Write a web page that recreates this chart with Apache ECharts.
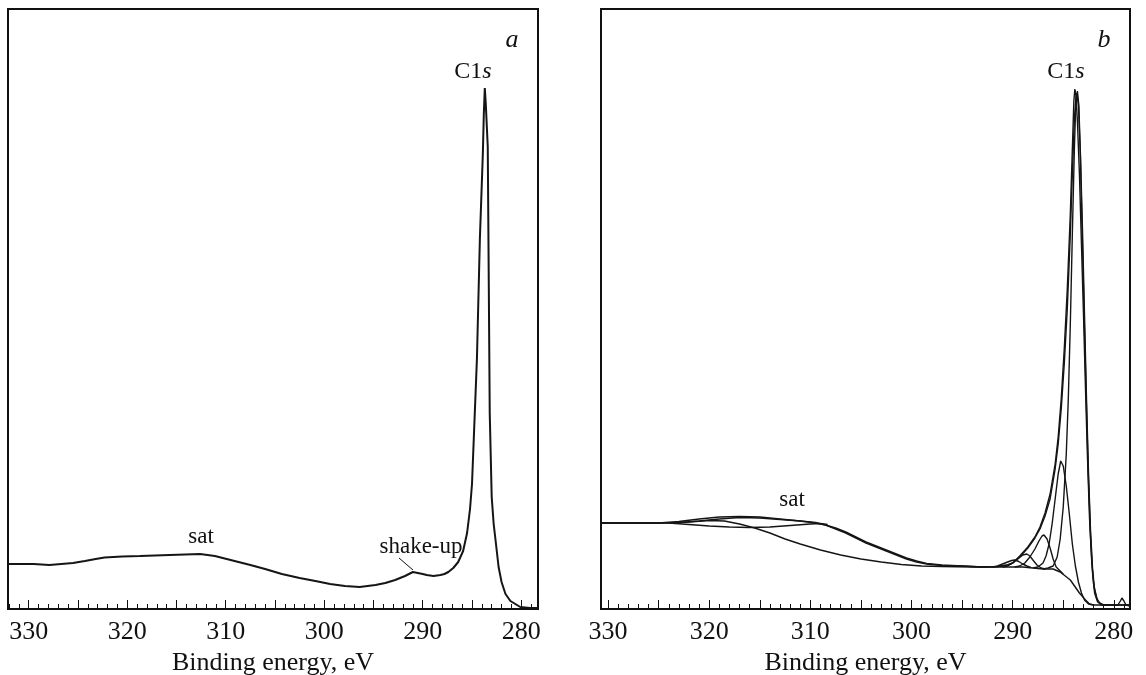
<!DOCTYPE html>
<html>
<head>
<meta charset="utf-8">
<script src="https://cdn.jsdelivr.net/npm/echarts@6/dist/echarts.min.js"></script>
<style>
  html, body { margin: 0; background: #fff; }
  #chart { width: 1146px; height: 675px; }
</style>
</head>
<body>
<div id="chart"></div>
<script>
// x ticks (binding energy, eV)
const labelValues = [280, 290, 300, 310, 320, 330]
const majorTicks = [280, 285, 290, 295, 300, 305, 310, 315, 320, 325, 330]
const minorTicks = []
for (let v = 279; v <= 332; v++) minorTicks.push(v)

// panel a: measured C1s spectrum [eV, counts]
const specA = [[332.1,45],[329.5,45],[327.9,44],[325.5,46],[324.3,48],[323.2,50],[322.3,51.5],[320.5,52.5],
  [318.7,53],[315.7,54],[312.6,55],[311.1,53],[309.1,48],[307.5,44],[306.0,40],[304.3,35],[302.5,31],
  [300.9,28],[299.4,25],[297.9,23],[296.4,22],[294.8,24],[293.8,26],[292.8,29],[291.8,33],[291.0,37],
  [290.5,36],[290.0,35],[289.6,34],[288.9,33],[288.2,34],[287.8,35],[287.4,37],[286.9,41],[286.4,47],
  [285.9,58],[285.5,76],[285.2,100],[285.0,125],[284.8,175],[284.5,250],[284.2,370],[283.9,455],
  [283.8,495],[283.7,521],[283.6,505],[283.4,462],[283.3,330],[283.2,196],[283.0,112],[282.8,85],
  [282.6,68],[282.3,42],[282.0,27],[281.6,15],[281.1,8],[280.6,5],[280.1,2],[279.1,1],[278.3,1]]

// panel b: curve fitting
const envExp = [[330.7,86],[327,86],[325,86],[323,87.5],[321,90],[319,92],[317,92.5],[315,92],[313,90],
  [311,88],[309.5,86],[308.5,84],[307.5,80],[306.5,76],[305.5,71],[304.5,66],[303.5,62],[302.5,58],
  [301.5,54],[300.5,50],[299.5,47],[298.5,45],[297,43.5],[295,43],[293,42],[291.5,42.5],[290.5,44],
  [290,46],[289.3,53],[288.5,62],[287.8,72],[287.3,82],[286.8,96],[286.3,115],[285.8,145],[285.5,172],
  [285.2,210],[284.9,260],[284.6,320],[284.3,395],[284.1,460],[283.95,508],[283.85,520],[283.75,514],
  [283.6,488],[283.4,435],[283.2,365],[283.0,295],[282.8,220],[282.6,150],[282.4,90],[282.2,50],
  [282.0,25],[281.7,11],[281.4,6],[281,4],[280,4],[279.6,4],[279.35,8],[279.2,11],[279.0,8],[278.8,4],[278.4,3]]
const envFit = [[330.7,86],[325,86],[323,86.5],[321,88],[319,90],[317,91.5],[315,91],[313,89.5],[311,88],
  [309.5,86.5],[308.5,84],[307.5,81],[306.5,77],[305.5,72],[304.5,67],[303.5,63],[302.5,59],[301.5,55],
  [300.5,51],[299.5,48],[298.5,45.5],[297,44],[295,43],[293,42],[291.5,42.5],[290.5,44],[290,46],
  [289.3,52],[288.5,61],[287.8,71],[287.3,80],[286.8,93],[286.3,110],[285.8,140],[285.5,165],[285.2,200],
  [284.9,245],[284.6,300],[284.3,375],[284.1,435],[283.9,490],[283.75,510],[283.65,516],[283.5,503],
  [283.3,455],[283.1,380],[282.9,295],[282.7,210],[282.5,135],[282.3,78],[282.1,40],[281.9,19],
  [281.6,8],[281.2,4],[280,4],[278.4,4]]
const background = [[330.7,86],[324,86],[322,87],[320,88.5],[318.5,88],[317,85],[315.5,81],[314,76],
  [312.5,70],[311,65],[309,59],[307,54],[305,50],[303,47],[301,44.5],[299,43],[297,42.5],[294,42],
  [291,42],[289,42],[288,41],[287,40],[286,40],[285.3,37],[284.3,29],[283.4,16],[282.8,9],[282.4,5],
  [282,4],[280,4],[278.4,4]]
const satComp = [[324,86],[322,84.5],[320,83],[318,82],[316,81.5],[314,82],[312,83.5],[310,85],[309,85.5],[308.3,84.5]]
const peakCC = [[287,40],[286.5,41],[286,43],[285.6,52],[285.3,70],[285,102],[284.7,155],[284.5,210],
  [284.3,285],[284.1,375],[283.9,460],[283.75,508],[283.6,518],[283.45,503],[283.3,450],[283.1,365],
  [282.9,280],[282.7,200],[282.5,128],[282.3,72],[282.1,36],[281.9,16],[281.6,7],[281.2,4]]
const peakCO = [[288,41],[287.5,42],[287,46],[286.7,53],[286.4,65],[286.1,85],[285.8,110],[285.5,135],
  [285.25,148],[285,143],[284.7,123],[284.4,95],[284.1,65],[283.8,43],[283.5,27],[283.2,16],[282.9,9],
  [282.5,5],[282,4]]
const peakCdO = [[289.8,42],[289.3,43],[288.8,46],[288.3,52],[287.8,60],[287.4,68],[287.1,73],[286.9,74],
  [286.6,70],[286.3,61],[286,50],[285.7,42],[285.3,38],[285,35]]
const peakOCO = [[291,42],[290.5,43],[290,46],[289.5,50],[289,54],[288.6,55],[288.3,53],[288,49],
  [287.6,44],[287.2,41],[286.8,40]]
const peakShake = [[292,42],[291.5,43],[291,45],[290.5,47],[290.1,48.5],[289.8,49],[289.4,47.5],
  [289,45],[288.6,43],[288.2,41.5]]

const FONT = 'Liberation Serif'
const chart = echarts.init(document.getElementById('chart'))

function xAxes(gridIndex, min, max) {
  return [{
    gridIndex, type: 'value', inverse: true, min, max, position: 'bottom',
    axisLine: { lineStyle: { color: '#111', width: 2 } },
    axisTick: { inside: true, length: 9, customValues: majorTicks, lineStyle: { color: '#111', width: 1 } },
    axisLabel: { customValues: labelValues, margin: 10, fontFamily: FONT, fontSize: 26, color: '#111' },
    splitLine: { show: false },
    name: 'Binding energy, eV', nameLocation: 'middle', nameGap: 37,
    nameTextStyle: { fontFamily: FONT, fontSize: 26, color: '#111' },
  }, {
    gridIndex, type: 'value', inverse: true, min, max, position: 'bottom',
    axisLine: { show: false },
    axisTick: { inside: true, length: 5, customValues: minorTicks, lineStyle: { color: '#111', width: 1 } },
    axisLabel: { show: false },
    splitLine: { show: false },
  }]
}

function line(data, xAxisIndex, yAxisIndex, width) {
  return {
    type: 'line', data, xAxisIndex, yAxisIndex, symbol: 'none', silent: true,
    lineStyle: { color: '#151515', width }, z: 3,
  }
}

function label(text, x, y, size, italic) {
  return {
    type: 'text', x, y,
    style: { text, fontFamily: FONT, fontSize: size, fontStyle: italic ? 'italic' : 'normal',
      fill: '#111', align: 'center', verticalAlign: 'middle' },
  }
}

function c1s(x, y) {
  return {
    type: 'text', x, y,
    style: {
      text: '{n|C1}{i|s}', align: 'center', verticalAlign: 'middle',
      rich: {
        n: { fontFamily: FONT, fontSize: 24, fill: '#111' },
        i: { fontFamily: FONT, fontSize: 24, fontStyle: 'italic', fill: '#111' },
      },
    },
  }
}

chart.setOption({
  animation: false,
  backgroundColor: '#fff',
  grid: [
    { left: 8, right: 608, top: 9, bottom: 66, outerBoundsMode: 'none', containLabel: false,
      show: true, borderColor: '#111', borderWidth: 2 },
    { left: 601, right: 16, top: 9, bottom: 66, outerBoundsMode: 'none', containLabel: false,
      show: true, borderColor: '#111', borderWidth: 2 },
  ],
  xAxis: [...xAxes(0, 278.3, 332.1), ...xAxes(1, 278.4, 330.7)],
  yAxis: [
    { gridIndex: 0, type: 'value', min: 0, max: 600, show: false },
    { gridIndex: 1, type: 'value', min: 0, max: 600, show: false },
  ],
  series: [
    line(specA, 0, 0, 2),
    line(background, 2, 1, 1.4),
    line(satComp, 2, 1, 1.4),
    line(envFit, 2, 1, 1.4),
    line(envExp, 2, 1, 1.4),
    line(peakCC, 2, 1, 1.4),
    line(peakCO, 2, 1, 1.4),
    line(peakCdO, 2, 1, 1.4),
    line(peakOCO, 2, 1, 1.4),
    line(peakShake, 2, 1, 1.4),
  ],
  graphic: [
    label('a', 512, 40, 26, true),
    c1s(473, 72),
    label('sat', 201, 537, 23, false),
    label('shake-up', 421, 547, 23, false),
    { type: 'line', shape: { x1: 399, y1: 558, x2: 413, y2: 570 }, style: { stroke: '#111', lineWidth: 1 } },
    label('b', 1104, 40, 26, true),
    c1s(1066, 72),
    label('sat', 792, 500, 23, false),
  ],
})
</script>
</body>
</html>
